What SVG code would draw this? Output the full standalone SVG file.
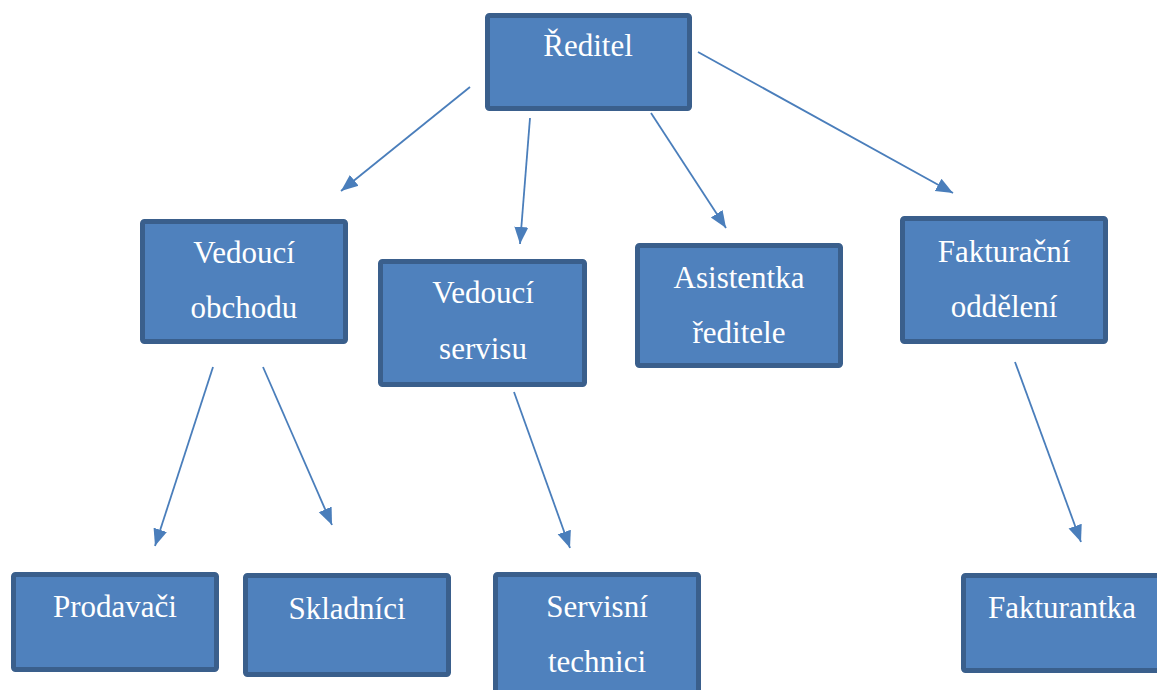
<svg xmlns="http://www.w3.org/2000/svg" width="1157" height="690" viewBox="0 0 1157 690">
<style>
.box{fill:#4F81BD;stroke:#3A5F8C;stroke-width:5}
.t{font-family:"Liberation Serif","Times New Roman",serif;font-size:31px;fill:#FFFFFF;text-anchor:middle}
.c{stroke:#4A7EBB;stroke-width:1.8;fill:none;marker-end:url(#ah)}
</style>
<defs>
<marker id="ah" markerUnits="userSpaceOnUse" markerWidth="18" markerHeight="16" viewBox="0 0 18 16" refX="17" refY="8" orient="auto">
<path d="M0,1 L17,8 L0,15 Z" fill="#4A7EBB"/>
</marker>
</defs>
<rect width="1157" height="690" fill="#FFFFFF"/>
<g id="connectors">
<line class="c" x1="470" y1="87" x2="341" y2="191"/>
<line class="c" x1="530" y1="118" x2="520" y2="244"/>
<line class="c" x1="651" y1="113" x2="726" y2="228"/>
<line class="c" x1="698" y1="52" x2="953" y2="193"/>
<line class="c" x1="213" y1="367" x2="155" y2="546"/>
<line class="c" x1="263" y1="367" x2="332" y2="525"/>
<line class="c" x1="514" y1="392" x2="570" y2="548"/>
<line class="c" x1="1015" y1="362" x2="1081" y2="542"/>
</g>
<g id="reditel">
<rect class="box" x="487.5" y="15.5" width="202" height="93" rx="2"/>
<text class="t" x="588" y="56">Ředitel</text>
</g>
<g id="vedouci-obchodu">
<rect class="box" x="142.5" y="221.5" width="203" height="120" rx="2"/>
<text class="t" x="244" y="263">Vedoucí</text>
<text class="t" x="244" y="318">obchodu</text>
</g>
<g id="vedouci-servisu">
<rect class="box" x="380.5" y="261.5" width="204" height="123" rx="2"/>
<text class="t" x="483" y="303">Vedoucí</text>
<text class="t" x="483" y="359">servisu</text>
</g>
<g id="asistentka">
<rect class="box" x="637.5" y="245.5" width="203" height="120" rx="2"/>
<text class="t" x="739" y="288">Asistentka</text>
<text class="t" x="739" y="343">ředitele</text>
</g>
<g id="fakturacni">
<rect class="box" x="902.5" y="218.5" width="203" height="123" rx="2"/>
<text class="t" x="1004" y="262">Fakturační</text>
<text class="t" x="1004" y="317">oddělení</text>
</g>
<g id="prodavaci">
<rect class="box" x="13.5" y="574.5" width="203" height="95" rx="2"/>
<text class="t" x="115" y="617">Prodavači</text>
</g>
<g id="skladnici">
<rect class="box" x="245.5" y="575.5" width="203" height="99" rx="2"/>
<text class="t" x="347" y="619">Skladníci</text>
</g>
<g id="servisni-technici">
<rect class="box" x="495.5" y="574.5" width="203" height="130" rx="2"/>
<text class="t" x="597" y="617">Servisní</text>
<text class="t" x="597" y="672">technici</text>
</g>
<g id="fakturantka">
<rect class="box" x="963.5" y="575.5" width="203" height="95" rx="2"/>
<text class="t" x="1062" y="618">Fakturantka</text>
</g>
</svg>
